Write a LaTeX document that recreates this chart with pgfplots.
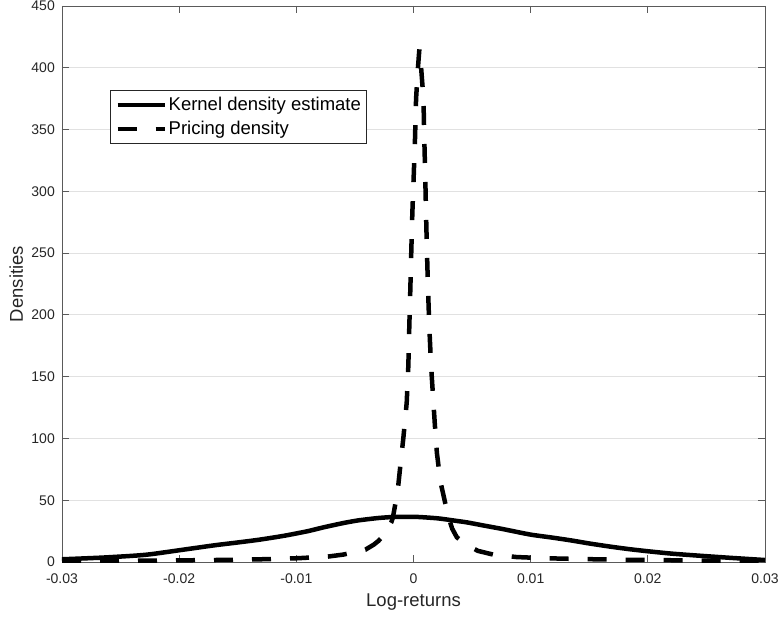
\documentclass[border=0pt]{standalone}
\usepackage{fontspec}
\setmainfont{Liberation Sans}
\usepackage{pgfplots}
\pgfplotsset{compat=1.18}
\definecolor{axtext}{RGB}{38,38,38}
\definecolor{axline}{RGB}{90,90,90}
\definecolor{gridgray}{RGB}{225,225,225}
\begin{document}
\begin{tikzpicture}
\path[use as bounding box] (-62pt,-54pt) rectangle (717pt,562pt);
\begin{axis}[
  at={(0pt,0pt)}, anchor=south west,
  scale only axis, width=703pt, height=556pt,
  xmin=-0.03, xmax=0.03, ymin=0, ymax=450,
  scaled x ticks=false, scaled y ticks=false,
  xtick={-0.03,-0.02,-0.01,0,0.01,0.02,0.03},
  xticklabels={-0.03,-0.02,-0.01,0,0.01,0.02,0.03},
  ytick={0,50,100,150,200,250,300,350,400,450},
  tick align=inside, major tick length=7pt,
  xtick pos=both, ytick pos=both,
  ymajorgrids, grid style={gridgray, line width=0.8pt},
  axis line style={axline, line width=0.8pt},
  every tick/.style={axline, line width=0.8pt},
  /pgf/number format/assume math mode=true,
  ticklabel style={font=\fontsize{14}{14}\selectfont, text=axtext},
  yticklabel style={anchor=east, inner sep=0pt, xshift=-7pt},
  xticklabel style={anchor=base, inner sep=0pt, yshift=-21pt},
  xlabel={Log-returns}, ylabel={Densities},
  label style={font=\fontsize{18.5}{18.5}\selectfont, text=axtext},
  xlabel style={at={(axis description cs:0.5,-0.0809)}, anchor=base},
  ylabel style={at={(axis description cs:-0.0555,0.5)}, anchor=base},
  legend cell align=left,
  legend style={at={(axis description cs:0.0683,0.8489)}, anchor=north west,
    draw=axtext, line width=0.8pt, inner xsep=5pt, inner ysep=2.5pt,
    nodes={inner sep=0pt}, column sep=0pt, row sep=0pt,
    font=\fontsize{18.5}{18.5}\selectfont, text=black},
  legend image code/.code={
    \path[draw=none, fill=none] (0pt,-12pt) rectangle (51pt,12pt);
    \draw[#1] (0pt,0pt) -- (47pt,0pt);},
]
\addplot[black, line width=4.5pt, smooth, tension=0.4] coordinates {
(-0.0300,2.2) (-0.0267,3.5) (-0.0240,5.0) (-0.0225,6.2) (-0.0200,9.5)
(-0.0170,13.5) (-0.0150,15.8) (-0.0132,18.0) (-0.0115,20.5) (-0.0106,22.0)
(-0.0090,25.0) (-0.0077,28.0) (-0.0060,31.5) (-0.0047,33.7) (-0.0030,35.6)
(-0.0018,36.4) (-0.0005,36.6) (0.0005,36.4) (0.0021,35.3) (0.0035,33.5)
(0.0046,32.0) (0.0060,29.5) (0.0076,26.7) (0.0090,24.0) (0.0101,22.0)
(0.0118,19.8) (0.0135,17.4) (0.0150,15.0) (0.0169,12.3) (0.0185,10.3)
(0.0199,8.8) (0.0220,6.8) (0.0241,5.3) (0.0270,3.4) (0.0300,1.6)
};
\addlegendentry{Kernel density estimate}
\addplot[black, line width=4.5pt, dash pattern=on 19pt off 19pt] coordinates {
(-0.0300,0.8) (-0.0270,0.9) (-0.0240,1.0) (-0.0200,1.3) (-0.0170,1.6)
(-0.0134,2.1) (-0.0100,3.0) (-0.0073,4.4) (-0.0060,6.0) (-0.0050,8.0)
(-0.0041,10) (-0.0034,14) (-0.0030,17) (-0.0026,21) (-0.0022,27)
(-0.0019,32) (-0.00176,36) (-0.00155,47) (-0.0013,62) (-0.0011,80)
(-0.00087,100) (-0.00058,129) (-0.00044,159) (-0.00036,190) (-0.00027,221)
(-0.00019,251) (-0.0001,282) (0.00002,313) (0.00013,343) (0.00022,375)
(0.00038,400) (0.0005,415)
(0.00065,400) (0.00085,375) (0.00092,343) (0.0010,313) (0.00107,282)
(0.00115,251) (0.00124,221) (0.00135,190) (0.0015,159) (0.0017,129)
(0.0019,100) (0.0020,88) (0.0023,65) (0.0027,48) (0.0030,36)
(0.0033,27) (0.0037,20) (0.0045,14) (0.0055,9) (0.0068,6)
(0.0088,4) (0.0114,3) (0.0148,2.3) (0.0182,1.8) (0.0210,1.5)
(0.0245,1.2) (0.0275,1.0) (0.0300,0.8)
};
\addlegendentry{Pricing density}
\end{axis}
\end{tikzpicture}
\end{document}
